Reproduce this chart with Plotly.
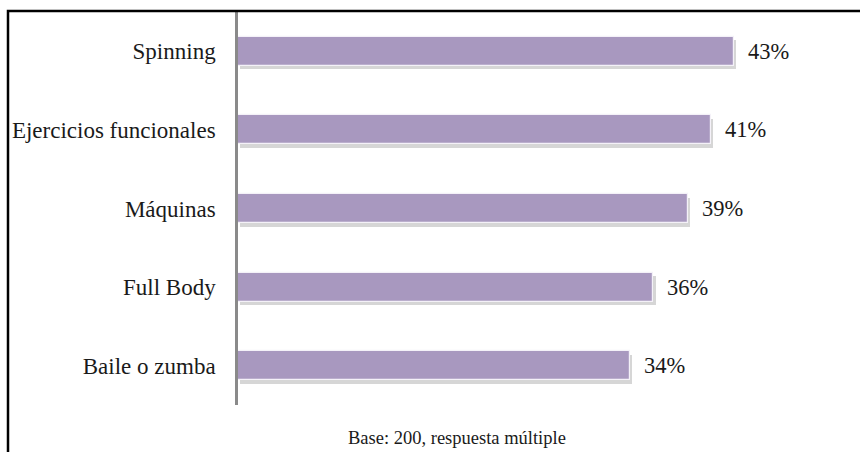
import plotly.graph_objects as go

# Actividades preferidas (% de menciones)
categories = ["Spinning", "Ejercicios funcionales", "Máquinas", "Full Body", "Baile o zumba"]
values = [43, 41, 39, 36, 34]
value_labels = ["43%", "41%", "39%", "36%", "34%"]
footnote = "Base: 200, respuesta múltiple"

BAR_COLOR = "#A898BF"
TEXT_COLOR = "#1a1a1a"
FONT = "Liberation Serif"
BAR_W = 0.37

fig = go.Figure()

# soft drop shadow under each bar
fig.add_trace(go.Bar(
    y=categories, x=values, orientation="h",
    base=0.18, width=BAR_W, offset=-BAR_W / 2 + 0.045,
    marker=dict(color="rgba(90,90,90,0.25)", line=dict(width=0)),
    hoverinfo="skip", showlegend=False,
))
# main bars
fig.add_trace(go.Bar(
    y=categories, x=values, orientation="h",
    width=BAR_W, offset=-BAR_W / 2,
    marker=dict(color=BAR_COLOR, line=dict(color="#f4f1f8", width=1.2)),
    showlegend=False,
))

# value labels just past the bar ends
for cat, v, lab in zip(categories, values, value_labels):
    fig.add_annotation(
        x=v, y=cat, xref="x", yref="y", text=lab, showarrow=False,
        xanchor="left", xshift=12, yanchor="middle",
        font=dict(family=FONT, size=22.5, color=TEXT_COLOR),
    )

# footnote below the plot
fig.add_annotation(
    x=0, y=0, xref="paper", yref="paper", text=footnote, showarrow=False,
    xanchor="center", yanchor="middle", xshift=219, yshift=-33,
    font=dict(family=FONT, size=18.5, color=TEXT_COLOR),
)

# frame around the chart area (runs off the right and bottom edges)
fig.add_shape(
    type="rect", xref="paper", yref="paper",
    xsizemode="pixel", ysizemode="pixel", xanchor=0, yanchor=1,
    x0=-230, x1=800, y0=1, y1=-600,
    line=dict(color="#000000", width=2.5), fillcolor="rgba(0,0,0,0)",
    layer="above",
)

fig.update_layout(
    width=860, height=452,
    margin=dict(l=238, r=45, t=12, b=47),
    paper_bgcolor="white", plot_bgcolor="white",
    barmode="overlay", bargap=0,
    font=dict(family=FONT, color=TEXT_COLOR),
    xaxis=dict(range=[0, 50], visible=False, fixedrange=True),
    yaxis=dict(
        autorange="reversed", showline=True, linecolor="#8a8a8a", linewidth=2.5,
        showgrid=False, zeroline=False, ticks="", ticklabelstandoff=15,
        tickfont=dict(family=FONT, size=23, color=TEXT_COLOR),
    ),
)

fig.write_html("out.html")
